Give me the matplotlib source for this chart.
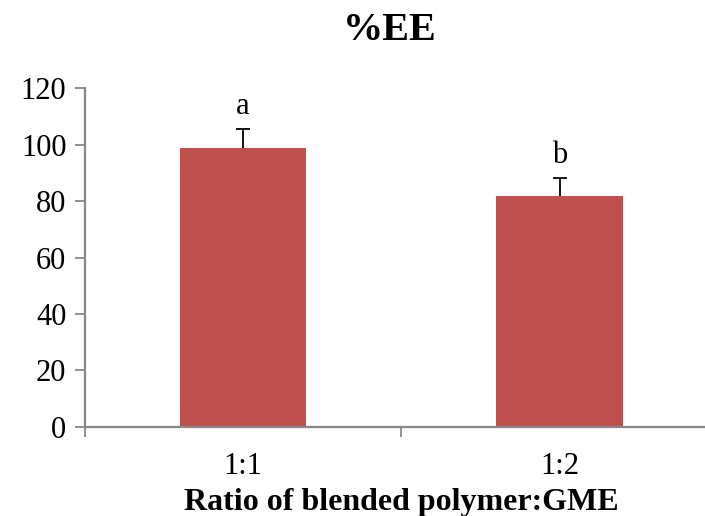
import numpy as np
import matplotlib
matplotlib.use('Agg')
import matplotlib.pyplot as plt

plt.rcParams['font.family'] = ['Liberation Serif', 'DejaVu Serif']

# Data
ratios = ['1:1', '1:2']
ee_mean = [99, 82]
ee_err = [6.5, 6.2]
letters = ['a', 'b']

bar_color = '#C0504D'
axis_color = '#878787'

fig = plt.figure(figsize=(7.05, 5.16), dpi=100)
ax = fig.add_axes([0.1199, 0.1731, 0.899, 0.6556])

x = np.arange(len(ratios))
ax.bar(x, ee_mean, width=0.4, color=bar_color, zorder=2)
_, caps, _ = ax.errorbar(x, ee_mean, yerr=[np.zeros(len(ee_err)), ee_err], fmt='none',
                         ecolor='black', elinewidth=1.3, capsize=5, capthick=1.3, zorder=3)
caps[0].set_visible(False)  # only the upper whisker gets a cap

for xi, m, e, lab in zip(x, ee_mean, ee_err, letters):
    ax.text(xi, m + e + 3.0, lab, ha='center', va='bottom', fontsize=22)

ax.set_xlim(-0.5, 1.5)
ax.set_ylim(0, 120)
ax.set_yticks(np.arange(0, 121, 20))
ax.tick_params(axis='y', labelsize=22, length=7, width=1.3, color=axis_color, pad=6)

# category labels without ticks, tick marks between categories
ax.set_xticks(x)
ax.set_xticklabels(ratios, fontsize=22)
ax.tick_params(axis='x', which='major', length=0, pad=18)
ax.set_xticks([-0.5, 0.5], minor=True)
ax.tick_params(axis='x', which='minor', length=7, width=1.3, color=axis_color)

for side in ['top', 'right']:
    ax.spines[side].set_visible(False)
for side in ['left', 'bottom']:
    ax.spines[side].set_color(axis_color)
    ax.spines[side].set_linewidth(1.6)

ax.set_xlabel('Ratio of blended polymer:GME', fontsize=23, fontweight='bold', labelpad=5)
fig.text(0.553, 0.94, '%EE', ha='center', va='center', fontsize=29, fontweight='bold')

fig.savefig('out.png', dpi=100)
